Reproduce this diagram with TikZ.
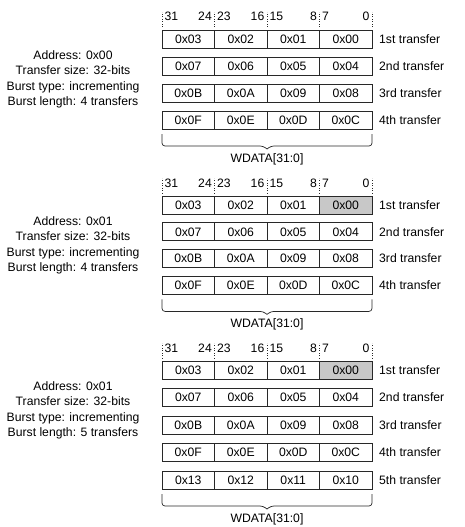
\documentclass[tikz,border=0pt]{standalone}
\usepackage{fontspec}
\setmainfont{Liberation Sans}
\usetikzlibrary{positioning, calc}
\definecolor{cellgray}{RGB}{200,200,200}
\definecolor{lineclr}{RGB}{40,40,40}

\begin{document}
\begin{tikzpicture}[
  x=1pt, y=-1pt,
  every node/.style={font=\fontsize{12.2}{15.5}\selectfont},
  cell/.style={draw=lineclr, line width=0.8pt, minimum width=52.5pt,
               minimum height=18pt, inner sep=0pt, outer sep=0pt},
  plain/.style={},
  hot/.style={fill=cellgray},
  bitnum/.style={inner sep=0pt},
  xfer/.style={inner sep=0pt},
  info/.style={align=center, inner sep=0pt},
  tick/.style={draw=lineclr, dotted, line width=0.5pt},
  brace/.style={draw=lineclr, line width=0.7pt}
]
\useasboundingbox (0,0) rectangle (464,527);

\foreach \blk/\ytop/\pitch/\nrows/\addr/\hl in {a/30/27/4/0x00/plain, b/196/26.8/4/0x01/hot, c/361/27.5/5/0x01/hot} {
  % data rows
  \foreach \r/\da/\db/\dc/\dd/\ord in {1/03/02/01/00/1st, 2/07/06/05/04/2nd,
      3/0B/0A/09/08/3rd, 4/0F/0E/0D/0C/4th, 5/13/12/11/10/5th} {
    \ifnum\r>\nrows\else
      \edef\lastfill{\ifnum\r=1 \hl\else plain\fi}
      \node[cell, anchor=north west] (\blk r\r c1) at (162,\ytop+\pitch*\r-\pitch) {0x\da};
      \node[cell, right=0pt of \blk r\r c1] (\blk r\r c2) {0x\db};
      \node[cell, right=0pt of \blk r\r c2] (\blk r\r c3) {0x\dc};
      \node[cell, \lastfill, right=0pt of \blk r\r c3] (\blk r\r c4) {0x\dd};
      \node[xfer, right=7pt of \blk r\r c4] (\blk t\r) {\ord\ transfer};
    \fi
  }
  % bit numbers and dotted ticks
  \foreach \c/\hi/\lo in {1/31/24, 2/23/16, 3/15/8, 4/7/0} {
    \node[bitnum, anchor=base west] (\blk b\hi) at ([shift={(2.5,-9)}]\blk r1c\c.north west) {\hi};
    \node[bitnum, anchor=base east] (\blk b\lo) at ([shift={(-2.5,-9)}]\blk r1c\c.north east) {\lo};
    \draw[tick] ([shift={(0,-3)}]\blk r1c\c.north west) -- ++(0,-15);
  }
  \draw[tick] ([shift={(0,-3)}]\blk r1c4.north east) -- ++(0,-15);
  % burst settings
  \node[info] (\blk info) at (73,\ytop+49.5)
    {Address: \addr\\Transfer size: 32-bits\\Burst type: incrementing\\Burst length: \nrows\ transfers};
  % brace and bus name
  \coordinate (\blk bl) at ([shift={(0,5)}]\blk r\nrows c1.south west);
  \coordinate (\blk br) at ([shift={(0,5)}]\blk r\nrows c4.south east);
  \coordinate (\blk tip) at ($(\blk bl)!0.5!(\blk br)+(0,15)$);
  \draw[brace] (\blk bl) [rounded corners=3pt] |- ($(\blk tip)+(-4,-3)$) [sharp corners] -- (\blk tip);
  \draw[brace] (\blk br) [rounded corners=3pt] |- ($(\blk tip)+(4,-3)$) [sharp corners] -- (\blk tip);
  \node (\blk wd) at ($(\blk tip)+(0,10)$) {WDATA[31:0]};
}
\end{tikzpicture}
\end{document}
